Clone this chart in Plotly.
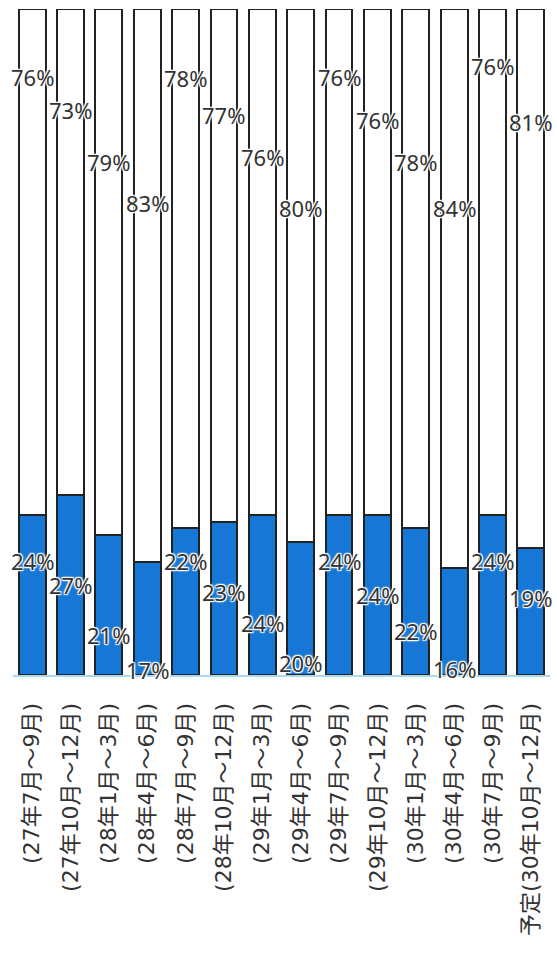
import plotly.graph_objects as go

categories = ["(27年7月～9月)", "(27年10月～12月)", "(28年1月～3月)", "(28年4月～6月)",
              "(28年7月～9月)", "(28年10月～12月)", "(29年1月～3月)", "(29年4月～6月)",
              "(29年7月～9月)", "(29年10月～12月)", "(30年1月～3月)", "(30年4月～6月)",
              "(30年7月～9月)", "予定(30年10月～12月)"]
blue_values = [24, 27, 21, 17, 22, 23, 24, 20, 24, 24, 22, 16, 24, 19]
white_values = [76, 73, 79, 83, 78, 77, 76, 80, 76, 76, 78, 84, 76, 81]

# label placement heights (percent of axis), staggered as in the original
blue_label_y = [17.1, 13.5, 6.0, 0.8, 17.1, 12.5, 7.8, 1.8, 17.1, 12.0, 6.6, 0.9, 17.1, 11.6]
white_label_y = [89.8, 84.8, 77.0, 70.8, 89.6, 84.1, 77.8, 70.1, 89.8, 83.3, 77.1, 70.1, 91.4, 83.0]

x = list(range(len(categories)))

fig = go.Figure()
fig.add_bar(x=x, y=blue_values, marker=dict(color="#1677d6", line=dict(color="#222222", width=2)),
            hoverinfo="skip")
fig.add_bar(x=x, y=white_values, marker=dict(color="#ffffff", line=dict(color="#222222", width=2)),
            hoverinfo="skip")

halo = "1px 1px 1px #fff, -1px -1px 1px #fff, 1px -1px 1px #fff, -1px 1px 1px #fff, 0 0 3px #fff"
annots = []
for i in x:
    annots.append(dict(x=i, y=white_label_y[i], text=f"{white_values[i]}%", showarrow=False,
                       font=dict(size=22, color="#333333", family="Noto Sans", shadow=halo),
                       xanchor="center", yanchor="middle"))
    annots.append(dict(x=i, y=blue_label_y[i], text=f"{blue_values[i]}%", showarrow=False,
                       font=dict(size=22, color="#333333", family="Noto Sans", shadow=halo),
                       xanchor="center", yanchor="middle"))

fig.update_layout(
    barmode="stack",
    bargap=0.30,
    width=557, height=953,
    margin=dict(l=13, r=7, t=9, b=278),
    plot_bgcolor="white", paper_bgcolor="white",
    showlegend=False,
    annotations=annots,
    font=dict(family="Noto Sans CJK JP", color="#333333"),
)
fig.update_xaxes(tickmode="array", tickvals=x, ticktext=categories, tickangle=-90,
                 tickfont=dict(size=22, family="DejaVu Sans, Noto Sans CJK JP", color="#333333"),
                 showline=True, linecolor="#a8d8f4", linewidth=2, showgrid=False,
                 ticks="", ticklabelstandoff=17, automargin=False, range=[-0.5, len(x) - 0.5])
fig.update_yaxes(range=[0, 100], visible=False, showgrid=False, automargin=False)

fig.write_html("out.html")
